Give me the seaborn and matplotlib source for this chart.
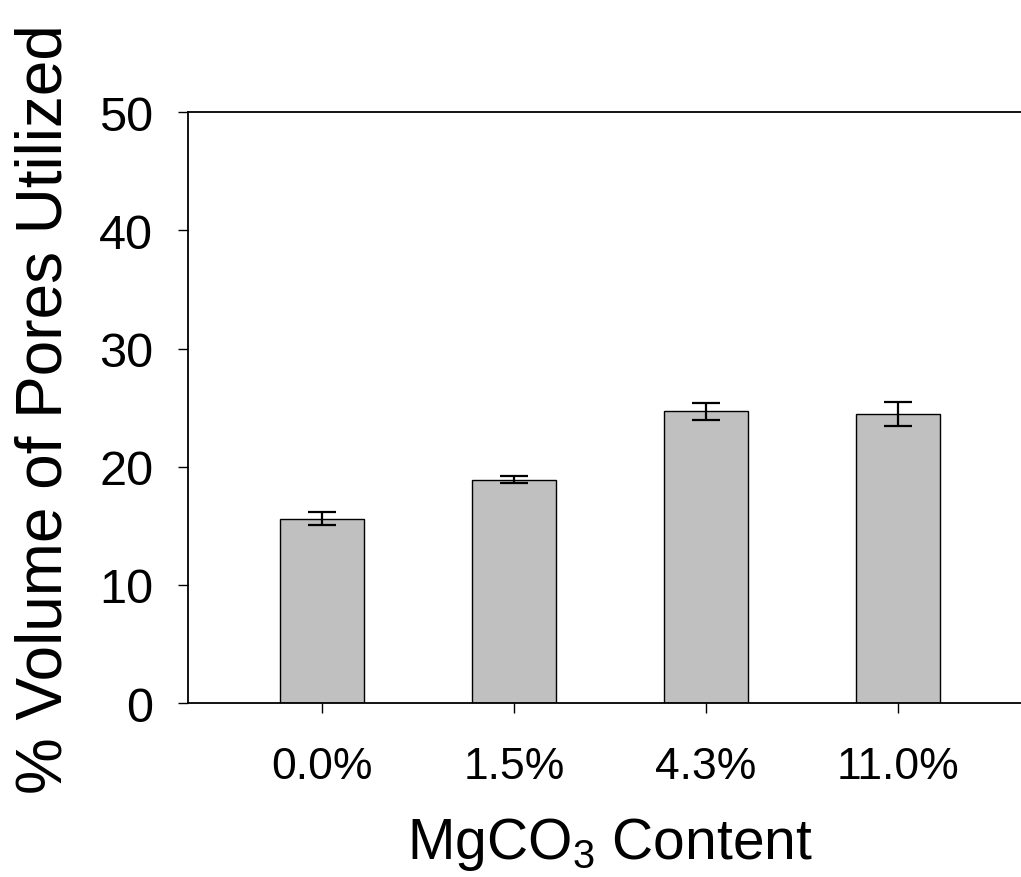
"""
Bar chart of pore volume utilisation against MgCO3 content, with error bars.
"""

import matplotlib
matplotlib.use("Agg")
import matplotlib.pyplot as plt
import seaborn as sns

CONTENT = ["0.0%", "1.5%", "4.3%", "11.0%"]
PORES_USED = [15.6, 18.9, 24.7, 24.45]
PORES_ERR = [0.55, 0.28, 0.7, 1.0]
Y_TICKS = [0, 10, 20, 30, 40, 50]

BAR_GREY = "#c0c0c0"

sns.set_style("ticks")
plt.rcParams["font.family"] = ["Liberation Sans", "DejaVu Sans"]
plt.rcParams["mathtext.fontset"] = "custom"
plt.rcParams["mathtext.rm"] = "Liberation Sans"
plt.rcParams["mathtext.it"] = "Liberation Sans:italic"
for key in ["text.color", "axes.labelcolor", "xtick.color", "ytick.color"]:
    plt.rcParams[key] = "black"


def main():
    fig = plt.figure(figsize=(10.21, 8.78), dpi=100)
    ax = fig.add_axes([0.184, 0.198, 0.827, 0.673])

    sns.barplot(x=CONTENT, y=PORES_USED, color=BAR_GREY, saturation=1,
                edgecolor="black", linewidth=1.0, width=0.44,
                errorbar=None, ax=ax)
    ax.errorbar(range(len(CONTENT)), PORES_USED, yerr=PORES_ERR, fmt="none",
                ecolor="black", elinewidth=1.6, capsize=10, capthick=1.6)

    ax.set_xlim(-0.698, 3.698)
    ax.set_ylim(0, 50)
    ax.set_yticks(Y_TICKS)

    for side in ["left", "bottom", "top"]:
        ax.spines[side].set_linewidth(1.3)
        ax.spines[side].set_color("black")
    ax.spines["right"].set_visible(False)

    ax.tick_params(axis="x", direction="out", length=7, width=1.0,
                   pad=24, labelsize=32)
    ax.tick_params(axis="y", direction="out", length=7, width=1.0,
                   pad=18, labelsize=35)

    ax.set_ylabel("% Volume of Pores Utilized", fontsize=46, labelpad=18)
    ax.set_xlabel("MgCO$_3$ Content", fontsize=41, labelpad=20)

    plt.savefig("out.png", dpi=100)
    plt.close()


if __name__ == "__main__":
    main()
